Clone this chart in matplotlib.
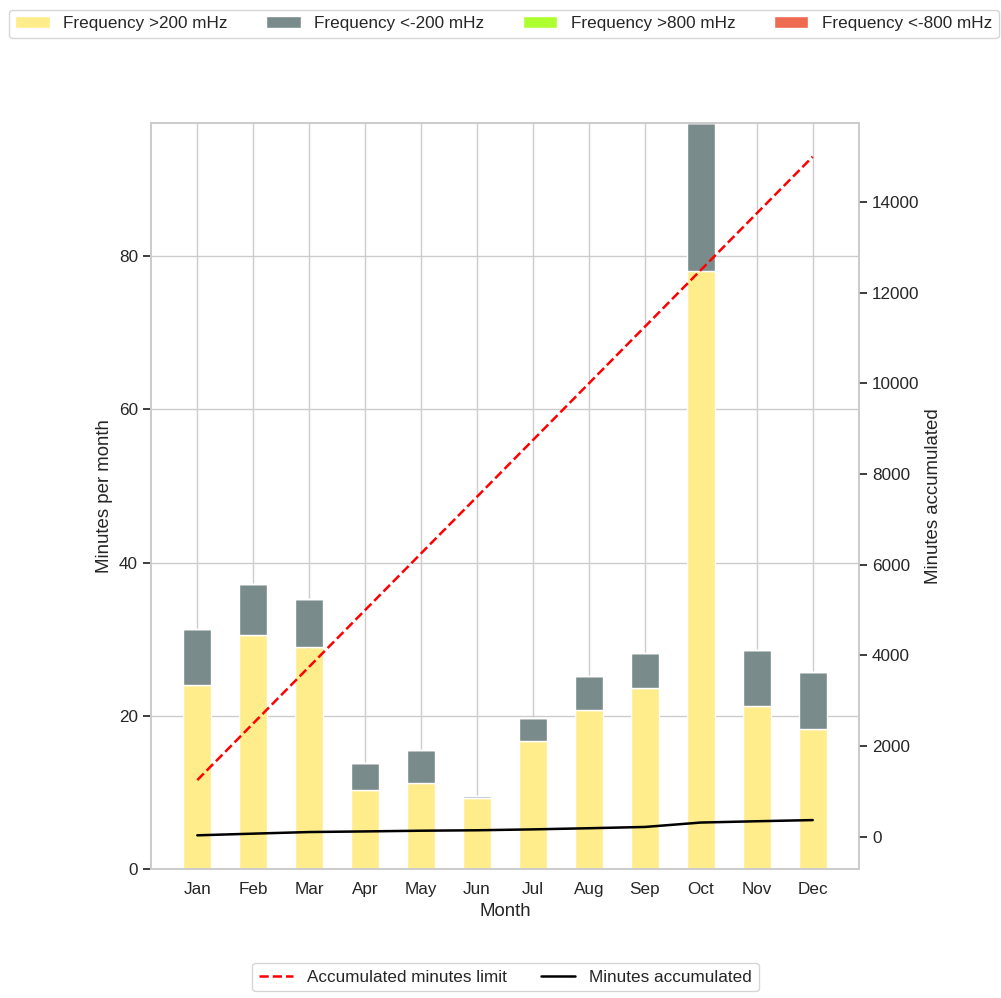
import matplotlib
matplotlib.use("Agg")
import matplotlib.pyplot as plt
import numpy as np
import seaborn as sns

months = ["Jan", "Feb", "Mar", "Apr", "May", "Jun",
          "Jul", "Aug", "Sep", "Oct", "Nov", "Dec"]
over_200 = [24.1, 30.6, 29.0, 10.4, 11.3, 9.3, 16.7, 20.8, 23.7, 78.0, 21.3, 18.3]
under_200 = [7.2, 6.6, 6.3, 3.4, 4.3, 0.2, 3.1, 4.4, 4.5, 19.4, 7.3, 7.4]
over_800 = [0] * 12
under_800 = [0] * 12
limit = [1250, 2500, 3750, 5000, 6250, 7500, 8750, 10000, 11250, 12500, 13750, 15000]


def main():
    sns.set_theme(style="whitegrid", font_scale=1.12)
    plt.rcParams["font.family"] = ["Liberation Sans", "DejaVu Sans"]

    x = np.arange(len(months))
    totals = np.array(over_200) + np.array(under_200) + np.array(over_800) + np.array(under_800)
    accumulated = np.cumsum(totals)

    fig = plt.figure(figsize=(10.01, 9.98), dpi=100)
    ax = fig.add_axes([0.151, 0.129, 0.707, 0.748])
    w = 0.5
    b1 = ax.bar(x, over_200, w, color="#FFEC8B", label="Frequency >200 mHz")
    bottom = np.array(over_200)
    b2 = ax.bar(x, under_200, w, bottom=bottom, color="#7A8B8B", label="Frequency <-200 mHz")
    bottom = bottom + np.array(under_200)
    b3 = ax.bar(x, over_800, w, bottom=bottom, color="#ADFF2F", label="Frequency >800 mHz")
    bottom = bottom + np.array(over_800)
    b4 = ax.bar(x, under_800, w, bottom=bottom, color="#EE6A50", label="Frequency <-800 mHz")
    ax.set_ylim(0, totals.max())
    ax.set_xticks(x)
    ax.set_xticklabels(months)
    ax.set_xlabel("Month")
    ax.set_ylabel("Minutes per month")

    ax2 = ax.twinx()
    ax2.grid(False)
    l1, = ax2.plot(x, limit, color="red", linestyle="--", linewidth=1.8,
                   label="Accumulated minutes limit")
    l2, = ax2.plot(x, accumulated, color="black", linewidth=1.8,
                   label="Minutes accumulated")
    ax2.set_ylabel("Minutes accumulated")

    fig.legend(handles=[b1, b2, b3, b4], loc="upper left", ncol=4,
               bbox_to_anchor=(0.0, 0.999), columnspacing=2.25)
    fig.legend(handles=[l1, l2], loc="lower center", ncol=2,
               bbox_to_anchor=(0.505, -0.002))

    fig.savefig("out.png", dpi=100)


if __name__ == "__main__":
    main()
